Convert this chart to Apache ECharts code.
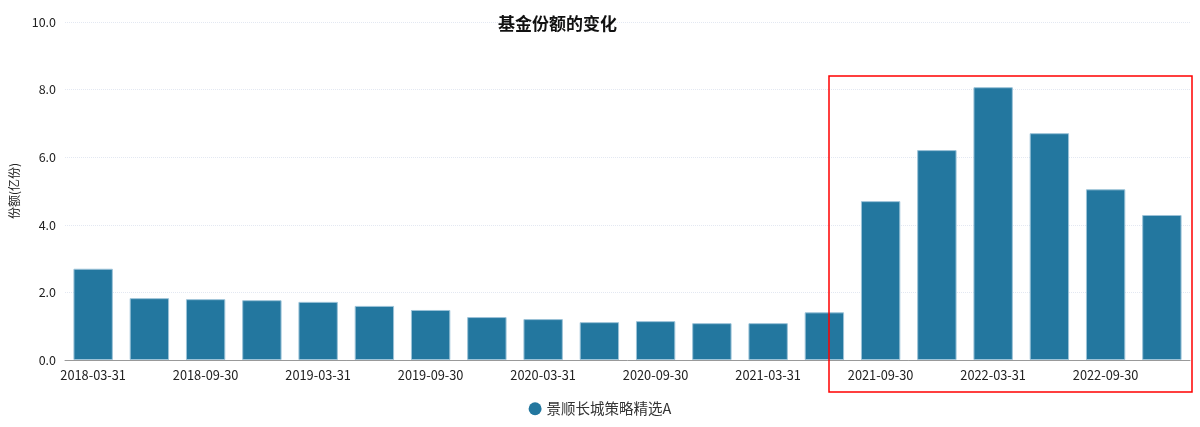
<!DOCTYPE html>
<html><head><meta charset="utf-8">
<script src="https://cdn.jsdelivr.net/npm/echarts@6/dist/echarts.min.js"></script>
<style>html,body{margin:0;padding:0;background:#fff}#c{width:1200px;height:427px}</style>
</head><body><div id="c"></div>
<script>
const categories = ['2018-03-31','2018-06-30','2018-09-30','2018-12-31','2019-03-31','2019-06-30','2019-09-30','2019-12-31','2020-03-31','2020-06-30','2020-09-30','2020-12-31','2021-03-31','2021-06-30','2021-09-30','2021-12-31','2022-03-31','2022-06-30','2022-09-30','2022-12-31'];
const shares = [2.70,1.83,1.80,1.77,1.72,1.60,1.48,1.27,1.21,1.12,1.15,1.09,1.09,1.41,4.70,6.21,8.07,6.71,5.05,4.29];
const seriesName = '景顺长城策略精选A';
const titleText = '基金份额的变化';
const yName = '份额(亿份)';
const font = '"Noto Sans CJK SC", "Microsoft YaHei", sans-serif';
const chart = echarts.init(document.getElementById('c'));
chart.setOption({
  animation: false,
  textStyle: {fontFamily: font},
  title: {text: titleText, left: 493, top: 10, textStyle: {fontSize: 17, fontWeight: 'bold', color: '#111', fontFamily: font}},
  legend: {bottom: 6, left: 'center', icon: 'circle', itemWidth: 13, itemHeight: 13, itemGap: 10, data: [seriesName],
    itemStyle: {borderWidth: 0},
    textStyle: {fontSize: 14.5, color: '#333', fontFamily: font}},
  grid: {left: 65, right: 10, top: 22, bottom: 67, containLabel: false},
  xAxis: {type: 'category', data: categories,
    axisLine: {lineStyle: {color: '#999'}},
    axisTick: {lineStyle: {color: '#999'}},
    axisLabel: {color: '#222', fontSize: 12.8, margin: 9, fontFamily: font}},
  yAxis: {type: 'value', min: 0, max: 10, interval: 2, name: yName, nameLocation: 'middle', nameGap: 43,
    nameTextStyle: {fontSize: 12, color: '#222', fontFamily: font},
    axisLabel: {formatter: v => v.toFixed(1), color: '#222', fontSize: 12.5, margin: 9, fontFamily: font},
    axisLine: {show: false}, axisTick: {show: false},
    splitLine: {lineStyle: {color: '#e3e8f2', type: 'dotted'}}},
  series: [{name: seriesName, type: 'bar', data: shares, barCategoryGap: '30%',
    itemStyle: {color: '#23779f', borderColor: '#9cc3d8', borderWidth: 1}}],
  graphic: [{type: 'rect', shape: {x: 829, y: 76, width: 363, height: 316},
    style: {fill: 'none', stroke: '#ff0000', lineWidth: 1.5}, z: 100}]
});
</script></body></html>
